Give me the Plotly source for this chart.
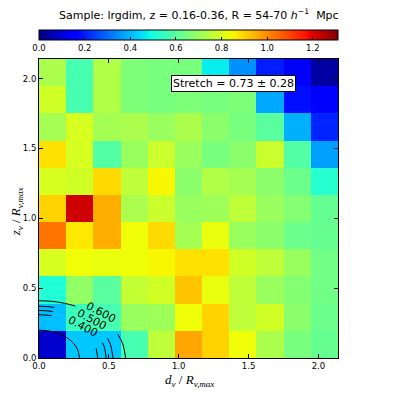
import numpy as np
import plotly.graph_objects as go

# ---------------- data ----------------
x_edges = np.linspace(0, 2.14, 12)   # d_v / R_v,max bins
y_edges = np.linspace(0, 2.14, 12)   # z_v / R_v,max bins

# rows from bottom (z=0) to top
stretch_map = [
    [0.09, 0.42, 0.42, 0.57, 0.76, 0.96, 0.90, 0.84, 0.73, 0.65, 0.62],
    [0.41, 0.55, 0.57, 0.70, 0.71, 0.84, 0.90, 0.76, 0.79, 0.68, 0.63],
    [0.51, 0.69, 0.60, 0.77, 0.79, 0.92, 0.83, 0.76, 0.70, 0.67, 0.64],
    [0.80, 0.84, 0.83, 0.84, 0.85, 0.88, 0.88, 0.79, 0.76, 0.70, 0.64],
    [1.03, 0.87, 0.95, 0.84, 0.89, 0.72, 0.83, 0.70, 0.68, 0.63, 0.62],
    [0.90, 1.22, 0.95, 0.73, 0.78, 0.70, 0.71, 0.76, 0.70, 0.67, 0.62],
    [0.80, 0.79, 0.89, 0.76, 0.85, 0.68, 0.74, 0.72, 0.68, 0.63, 0.52],
    [0.88, 0.80, 0.59, 0.70, 0.78, 0.70, 0.65, 0.68, 0.78, 0.59, 0.37],
    [0.72, 0.80, 0.72, 0.73, 0.70, 0.73, 0.68, 0.65, 0.60, 0.39, 0.21],
    [0.79, 0.57, 0.74, 0.66, 0.65, 0.66, 0.65, 0.66, 0.38, 0.18, 0.15],
    [0.73, 0.57, 0.74, 0.66, 0.65, 0.65, 0.47, 0.35, 0.20, 0.14, 0.04],
]

# model contours (quarter arcs near origin), broken where matplotlib put labels
contour_x = [
    [0, 0.10, 0.18, 0.245, 0.275, 0.29],
    [0, 0.05, 0.09, None, 0.409, 0.42],
    [0, 0.05, 0.10, None, 0.454, 0.47, 0.48],
    [0, 0.055, 0.11, None, 0.49, 0.51, 0.53],
    [0, 0.10, 0.18, 0.26, None, 0.564, 0.60, 0.62],
]
contour_y = [
    [0.20, 0.188, 0.157, 0.107, 0.063, 0],
    [0.31, 0.307, 0.303, None, 0.07, 0],
    [0.34, 0.338, 0.333, None, 0.11, 0.069, 0],
    [0.37, 0.368, 0.362, None, 0.14, 0.10, 0],
    [0.41, 0.405, 0.392, 0.372, None, 0.17, 0.10, 0],
]
clabel_text = ["0.400", "0.500", "0.600"]
clabel_x = [0.312, 0.376, 0.443]
clabel_y = [0.223, 0.276, 0.324]

cbar_ticks = [0.0, 0.2, 0.4, 0.6, 0.8, 1.0, 1.2]
axis_ticks = [0.0, 0.5, 1.0, 1.5, 2.0]

# matplotlib 'jet'
jet = [
    [0.0, "rgb(0,0,127)"], [0.11, "rgb(0,0,255)"], [0.125, "rgb(0,0,255)"],
    [0.34, "rgb(0,219,255)"], [0.35, "rgb(0,229,246)"], [0.375, "rgb(20,255,226)"],
    [0.64, "rgb(239,255,8)"], [0.65, "rgb(247,246,0)"], [0.66, "rgb(255,236,0)"],
    [0.89, "rgb(255,19,0)"], [0.91, "rgb(232,0,0)"], [1.0, "rgb(127,0,0)"],
]

fig = go.Figure()

fig.add_trace(go.Heatmap(
    x=x_edges, y=y_edges, z=stretch_map,
    colorscale=jet, zmin=0, zmax=1.31,
    colorbar=dict(
        orientation="h", x=0.5, xanchor="center",
        y=1.097, yanchor="top", len=1.0, lenmode="fraction",
        thickness=10, outlinewidth=1, outlinecolor="black",
        tickvals=cbar_ticks, tickformat=".1f", ticks="inside", ticklen=3,
        tickcolor="black", tickfont=dict(size=8.5, color="black"),
        ypad=0, xpad=0,
    ),
))

for cx, cy in zip(contour_x, contour_y):
    fig.add_trace(go.Scatter(
        x=cx, y=cy, mode="lines", line=dict(color="black", width=1, shape="spline"),
        connectgaps=False, showlegend=False, hoverinfo="skip",
    ))

for t, lx, ly in zip(clabel_text, clabel_x, clabel_y):
    fig.add_annotation(x=lx, y=ly, text=t, showarrow=False, textangle=28,
                       xanchor="center", yanchor="middle",
                       font=dict(size=11, color="black"))

fig.add_annotation(
    xref="paper", yref="paper", x=0.649, y=0.918,
    xanchor="center", yanchor="middle",
    text="Stretch = 0.73 \u00b1 0.28", showarrow=False,
    font=dict(size=11, color="black"), bgcolor="white",
    bordercolor="black", borderwidth=1, borderpad=1,
)

# title
fig.add_annotation(
    xref="paper", yref="paper", x=0.535, y=1.15,
    xanchor="center", yanchor="middle",
    text="Sample: lrgdim, z = 0.16-0.36, R = 54-70 <i>h</i><sup>\u22121</sup>  Mpc",
    showarrow=False, font=dict(size=11, color="black"),
)

# axis labels
fig.add_annotation(
    xref="paper", yref="paper", x=0.505, y=-0.074,
    xanchor="center", yanchor="middle",
    text="<i>d<sub>v</sub></i> / <i>R<sub>v,max</sub></i>", showarrow=False,
    font=dict(size=13, family="Liberation Serif", color="black"),
)
fig.add_annotation(
    xref="paper", yref="paper", x=-0.074, y=0.49, textangle=-90,
    xanchor="center", yanchor="middle",
    text="<i>z<sub>v</sub></i> / <i>R<sub>v,max</sub></i>", showarrow=False,
    font=dict(size=13, family="Liberation Serif", color="black"),
)

axis_style = dict(
    range=[0, 2.14], showgrid=False, zeroline=False,
    showline=True, linecolor="black", linewidth=1, mirror="allticks",
    ticks="inside", ticklen=4, tickcolor="black",
    tickvals=axis_ticks, tickformat=".1f",
    tickfont=dict(size=8.5, color="black"),
)
fig.update_xaxes(**axis_style)
fig.update_yaxes(**axis_style)

# the page body adds an 8px margin, so the figure is 16px smaller than the window
fig.update_layout(
    width=383, height=383,
    margin=dict(l=31, r=53, t=51, b=33, autoexpand=False),
    paper_bgcolor="white", plot_bgcolor="white",
    font=dict(family="DejaVu Sans"),
    showlegend=False,
)

fig.write_html("out.html")
